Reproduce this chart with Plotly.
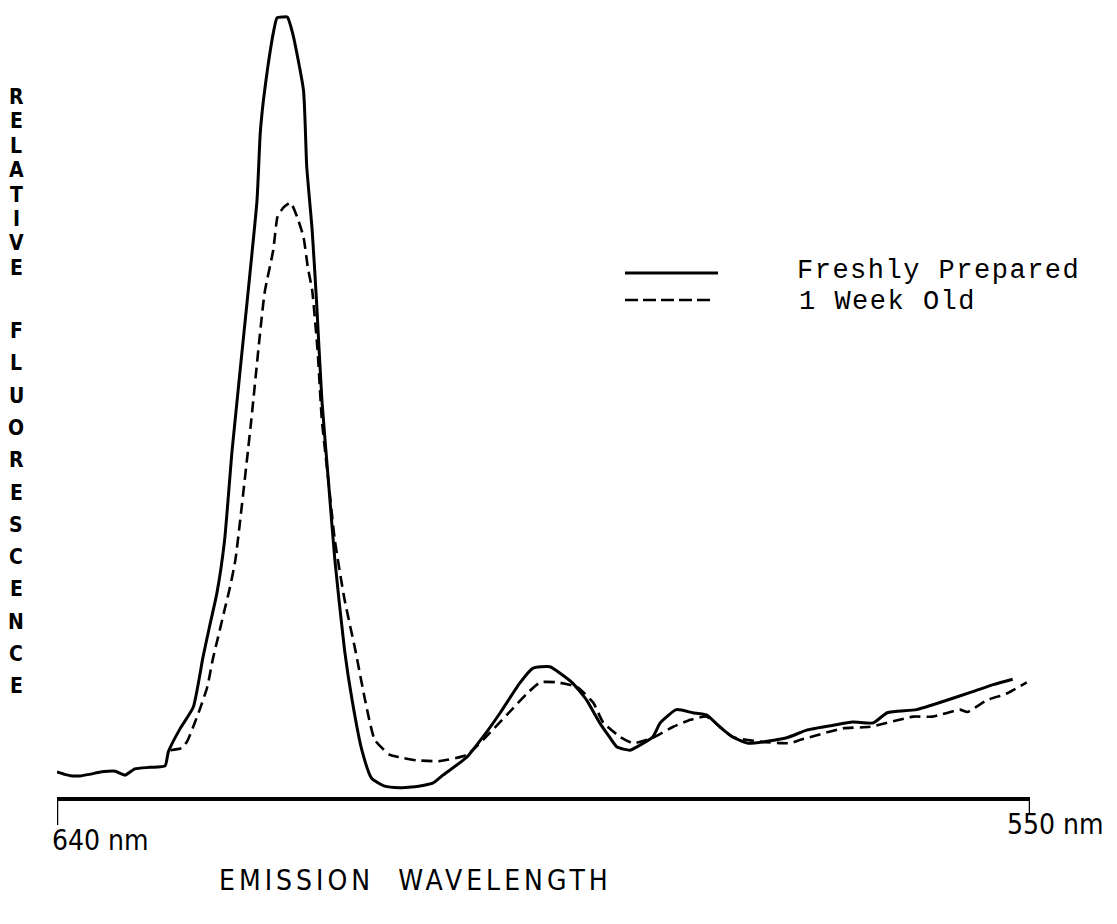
import plotly.graph_objects as go

# ---- data ----
fresh_nm = [640.0, 639.3, 638.6, 637.9, 637.0, 636.0, 635.3, 634.6, 633.7, 632.8, 631.4, 630.0,
            629.7, 628.6, 627.4, 626.5, 625.9, 625.2, 624.5, 623.8, 622.4, 621.5, 621.2, 620.9,
            620.5, 620.0, 619.65, 619.1, 618.7, 618.2, 617.2, 616.9, 616.4, 616.0, 615.5, 614.9,
            614.3, 613.4, 612.7, 611.8, 610.9, 609.7, 608.3, 606.9, 605.2, 604.3, 602.1, 600.6,
            599.0, 597.2, 596.0, 594.4, 593.5, 592.3, 591.0, 589.8, 588.9, 588.2, 587.0, 586.4,
            584.9, 584.2, 582.7, 581.2, 579.9, 578.7, 577.5, 576.1, 572.5, 570.6, 568.2, 566.4,
            564.5, 563.2, 560.5, 557.7, 555.3, 553.4, 551.6]
fresh_rf = [3.2, 2.9, 2.7, 2.7, 2.9, 3.2, 3.3, 3.3, 2.8, 3.6, 3.8, 4.0,
            5.8, 8.8, 11.5, 17.9, 21.8, 26.2, 32.9, 44.5, 63.7, 76.5, 85.1, 89.4,
            93.6, 97.9, 99.9, 100.0, 100.0, 97.9, 90.6, 80.8, 72.7, 63.7, 50.9, 40.6,
            30.4, 18.8, 12.4, 6.0, 2.4, 1.4, 1.2, 1.3, 1.8, 2.8, 5.1, 7.7,
            10.8, 14.6, 16.5, 16.7, 15.9, 14.6, 12.4, 9.5, 7.7, 6.4, 6.0, 6.4,
            7.7, 9.5, 11.2, 10.8, 10.5, 9.0, 7.7, 6.9, 7.6, 8.6, 9.2, 9.6,
            9.5, 10.8, 11.2, 12.4, 13.5, 14.4, 15.1]

old_nm = [629.5, 628.4, 627.9, 627.4, 626.8, 626.1, 625.6, 625.1, 624.5, 624.0, 623.5, 622.1,
          620.8, 620.0, 619.6, 619.1, 618.4, 617.8, 617.2, 616.8, 616.4, 615.9, 615.5, 614.9,
          614.3, 613.4, 612.4, 611.5, 610.6, 609.2, 608.3, 606.7, 604.6, 602.1, 599.7, 597.8,
          596.5, 595.3, 593.75, 591.9, 590.4, 589.5, 587.9, 586.7, 584.9, 583.0, 581.4, 579.9,
          577.5, 575.0, 572.2, 571.3, 567.3, 564.8, 560.8, 559.0, 556.5, 555.8, 554.0, 552.1, 550.3]
old_rf = [6.0, 6.3, 7.3, 9.0, 11.2, 14.1, 17.6, 20.5, 24.0, 26.9, 30.4, 47.4,
          64.6, 70.1, 74.4, 75.5, 76.2, 74.4, 71.8, 67.9, 65.0, 57.3, 48.3, 40.6,
          32.9, 25.3, 18.8, 12.4, 7.3, 5.4, 5.1, 4.7, 4.6, 5.4, 8.6, 11.4,
          13.3, 14.7, 14.7, 14.1, 12.1, 9.6, 7.7, 6.9, 7.6, 9.0, 9.9, 10.3,
          7.7, 7.1, 6.9, 7.3, 8.8, 9.0, 10.3, 10.3, 11.2, 10.9, 12.4, 13.3, 14.7]

series_names = ["Freshly Prepared", "1 Week Old"]
x_tick_labels = ["640 nm", "550 nm"]
x_range = [640, 550]
y_title_words = ["RELATIVE", "FLUORESCENCE"]
x_title = "EMISSION  WAVELENGTH"

W, H = 1117, 924
ML, MR, MT, MB = 57, 87, 10, 127
PW, PH = W - ML - MR, H - MT - MB


def px(xp):
    return (xp - ML) / PW


def py(yp):
    return (H - MB - yp) / PH


fig = go.Figure()
fig.add_trace(go.Scatter(x=fresh_nm, y=fresh_rf, mode="lines", name=series_names[0],
                         line=dict(color="black", width=3, shape="spline", smoothing=0.5),
                         showlegend=False))
fig.add_trace(go.Scatter(x=old_nm, y=old_rf, mode="lines", name=series_names[1],
                         line=dict(color="black", width=2.6, dash="11px,6px", shape="spline",
                                   smoothing=0.5),
                         showlegend=False))

shapes = []
# tick marks at axis ends
shapes.append(dict(type="line", xref="x", yref="paper", x0=x_range[0], x1=x_range[0],
                   y0=0, y1=py(825), line=dict(color="black", width=2.5)))
shapes.append(dict(type="line", xref="x", yref="paper", x0=x_range[1], x1=x_range[1],
                   y0=0, y1=py(813), line=dict(color="black", width=2.5)))
# legend samples
shapes.append(dict(type="line", xref="paper", yref="paper", x0=px(625), x1=px(718),
                   y0=py(273), y1=py(273), line=dict(color="black", width=3)))
shapes.append(dict(type="line", xref="paper", yref="paper", x0=px(625), x1=px(712),
                   y0=py(300), y1=py(300), line=dict(color="black", width=2.6, dash="13px,5px")))

annotations = []
mono = dict(family="Liberation Mono, Courier New, monospace", size=27, color="black")
annotations.append(dict(text='<span style="letter-spacing:1.5px">%s</span>' % series_names[0],
                        xref="paper", yref="paper", x=px(795), y=py(271),
                        xanchor="left", yanchor="middle", showarrow=False, font=mono))
annotations.append(dict(text='<span style="letter-spacing:1.5px">%s</span>' % series_names[1],
                        xref="paper", yref="paper", x=px(797), y=py(302),
                        xanchor="left", yanchor="middle", showarrow=False, font=mono))

cond = "Liberation Sans Narrow, DejaVu Sans Condensed, Arial Narrow, sans-serif"
annotations.append(dict(text=x_tick_labels[0], xref="paper", yref="paper", x=px(50), y=py(840),
                        xanchor="left", yanchor="middle", showarrow=False,
                        font=dict(family=cond, size=28, color="black")))
annotations.append(dict(text=x_tick_labels[1], xref="paper", yref="paper", x=px(1005), y=py(824),
                        xanchor="left", yanchor="middle", showarrow=False,
                        font=dict(family=cond, size=28, color="black")))
annotations.append(dict(text='<span style="letter-spacing:4px">%s</span>' % x_title,
                        xref="paper", yref="paper", x=px(217), y=py(880),
                        xanchor="left", yanchor="middle", showarrow=False,
                        font=dict(family=cond, size=28, color="black")))

# vertical stacked y-axis title
starts = [97, 331]
steps = [24.4, 32.3]
for word, s0, st in zip(y_title_words, starts, steps):
    for i, ch in enumerate(word):
        annotations.append(dict(text="<b>%s</b>" % ch, xref="paper", yref="paper",
                                x=px(16), y=py(s0 + i * st), xanchor="center", yanchor="middle",
                                showarrow=False,
                                font=dict(family=cond, size=21, color="black")))

fig.update_layout(
    width=W, height=H,
    margin=dict(l=ML, r=MR, t=MT, b=MB),
    paper_bgcolor="white", plot_bgcolor="white",
    xaxis=dict(range=x_range, showgrid=False, zeroline=False, showline=True,
               linecolor="black", linewidth=3.5, ticks="", showticklabels=False),
    yaxis=dict(range=[0, PH / 7.8], showgrid=False, zeroline=False, showline=False,
               ticks="", showticklabels=False),
    shapes=shapes, annotations=annotations, showlegend=False,
)

fig.write_html("out.html")
